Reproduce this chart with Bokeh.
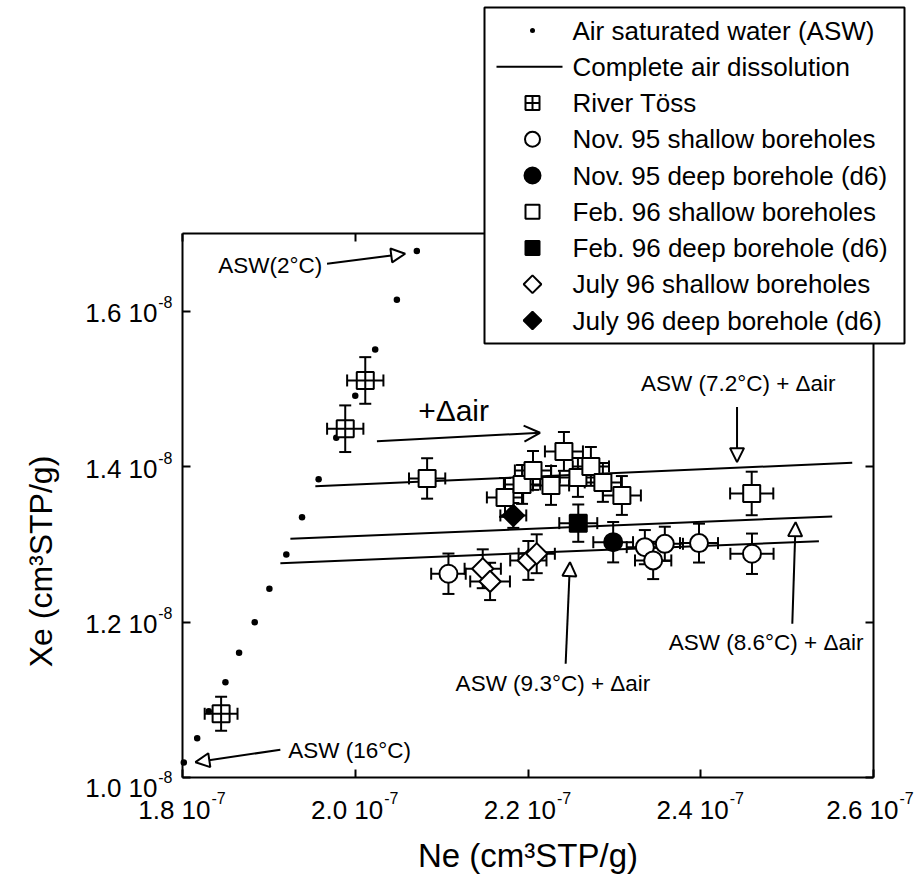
import math

from bokeh.core.properties import value
from bokeh.embed import file_html
from bokeh.models import (Arrow, ColumnDataSource, FixedTicker, Label, LinearAxis,
                          NormalHead, OpenHead, Range1d, TeeHead, Whisker)
from bokeh.plotting import figure
from bokeh.resources import INLINE

FONT = "Liberation Sans"

# Axis ticks: Ne in units of 1e-7, Xe in units of 1e-8 cm3STP/g
ne_ticks = [1.8, 2.0, 2.2, 2.4, 2.6]
ne_tick_text = ["1.8 10", "2.0 10", "2.2 10", "2.4 10", "2.6 10"]
ne_tick_exp = "-7"
xe_ticks = [1.0, 1.2, 1.4, 1.6]
xe_tick_text = ["1.0 10", "1.2 10", "1.4 10", "1.6 10"]
xe_tick_exp = "-8"
ne_lim = (1.8, 2.6)
xe_lim = (1.0, 1.7)

# Air saturated water, 16 °C down to 2 °C in 1 °C steps
asw_ne = [1.8015, 1.8170, 1.8304, 1.8497, 1.8655, 1.8836, 1.9006, 1.9202,
          1.9384, 1.9576, 1.9780, 2.0000, 2.0231, 2.0482, 2.0713]
asw_xe = [1.0193, 1.0506, 1.0853, 1.1227, 1.1605, 1.1999, 1.2429, 1.2870,
          1.3350, 1.3839, 1.4372, 1.4913, 1.5508, 1.6148, 1.6774]

# Complete air dissolution lines (ASW 7.2, 8.6 and 9.3 °C + excess air)
dis_ne0 = [1.9538, 1.9249, 1.9133]
dis_xe0 = [1.3749, 1.3072, 1.2758]
dis_ne1 = [2.5754, 2.5522, 2.5368]
dis_xe1 = [1.4050, 1.3359, 1.3041]

# River Töss
toss_ne = [1.8447, 1.9884, 2.0116]
toss_xe = [1.0820, 1.4488, 1.5109]
toss_ne_err = [0.019, 0.021, 0.021]
toss_xe_err = [0.022, 0.030, 0.030]

# Nov. 95
nov_sh_ne = [2.1079, 2.3353, 2.3449, 2.3584, 2.3980, 2.4593]
nov_sh_xe = [1.2622, 1.2964, 1.2793, 1.3007, 1.3016, 1.2879]
nov_sh_ne_err = [0.020, 0.021, 0.021, 0.021, 0.022, 0.025]
nov_sh_xe_err = [0.026, 0.022, 0.024, 0.022, 0.025, 0.026]
nov_dp_ne = [2.2986]
nov_dp_xe = [1.3028]
nov_dp_ne_err = [0.023]
nov_dp_xe_err = [0.026]

# Feb. 96
feb_sh_ne = [2.0832, 2.1734, 2.1931, 2.2058, 2.2266, 2.2416, 2.2578, 2.2728,
             2.2867, 2.3087, 2.4590]
feb_sh_xe = [1.3848, 1.3604, 1.3771, 1.3951, 1.3758, 1.4196, 1.3861, 1.4003,
             1.3797, 1.3629, 1.3655]
feb_sh_ne_err = [0.021, 0.021, 0.021, 0.021, 0.021, 0.022, 0.021, 0.021,
                 0.021, 0.022, 0.025]
feb_sh_xe_err = [0.026, 0.025, 0.025, 0.025, 0.025, 0.025, 0.025, 0.025,
                 0.025, 0.025, 0.028]
feb_dp_ne = [2.2582]
feb_dp_xe = [1.3273]
feb_dp_ne_err = [0.022]
feb_dp_xe_err = [0.024]

# July 96
jul_sh_ne = [2.1476, 2.1561, 2.2004, 2.2101]
jul_sh_xe = [1.2686, 1.2523, 1.2793, 1.2879]
jul_sh_ne_err = [0.021, 0.023, 0.021, 0.021]
jul_sh_xe_err = [0.025, 0.024, 0.025, 0.025]
jul_dp_ne = [2.1830]
jul_dp_xe = [1.3372]
jul_dp_ne_err = [0.015]
jul_dp_xe_err = [0.016]

legend_labels = ["Air saturated water (ASW)", "Complete air dissolution", "River Töss",
                 "Nov. 95 shallow boreholes", "Nov. 95 deep borehole (d6)",
                 "Feb. 96 shallow boreholes", "Feb. 96 deep borehole (d6)",
                 "July 96 shallow boreholes", "July 96 deep borehole (d6)"]

# Page layout (pixels) of the axes box inside the 915 x 887 canvas
W, H = 915, 887
BOX_L, BOX_R, BOX_T, BOX_B = 182, 873, 233, 777


def ne_at(px):
    return ne_lim[0] + (px - BOX_L) / (BOX_R - BOX_L) * (ne_lim[1] - ne_lim[0])


def xe_at(py):
    return xe_lim[0] + (BOX_B - py) / (BOX_B - BOX_T) * (xe_lim[1] - xe_lim[0])


def ne_px(v):
    return BOX_L + (v - ne_lim[0]) / (ne_lim[1] - ne_lim[0]) * (BOX_R - BOX_L)


p = figure(width=W, height=H, output_backend="svg", toolbar_location=None,
           x_range=Range1d(ne_at(0), ne_at(W)), y_range=Range1d(xe_at(H), xe_at(0)),
           min_border=0, x_axis_type=None, y_axis_type=None)
p.grid.visible = False
p.outline_line_color = None
p.background_fill_color = "white"


def box_axis(ticks, side, loc, bounds):
    ax = LinearAxis(ticker=FixedTicker(ticks=ticks), fixed_location=loc, bounds=bounds,
                    major_label_overrides={t: "" for t in ticks})
    ax.major_label_text_font_size = "0px"
    ax.axis_line_width = 2
    ax.axis_line_color = "black"
    ax.major_tick_line_width = 2
    ax.major_tick_line_color = "black"
    ax.major_tick_in = 8
    ax.major_tick_out = 0
    ax.minor_tick_line_color = None
    p.add_layout(ax, side)


box_axis(ne_ticks, "below", xe_lim[0], ne_lim)
box_axis(ne_ticks, "above", xe_lim[1], ne_lim)
box_axis(xe_ticks, "left", ne_lim[0], xe_lim)
box_axis(xe_ticks, "right", ne_lim[1], xe_lim)

# Tick labels with superscript exponents
SUP_W = 15
for t, s in zip(ne_ticks, ne_tick_text):
    # main text ends a little right of the tick; kept inside the page at the right edge
    end = min(28, W - 2 - SUP_W - ne_px(t))
    p.add_layout(Label(x=t, y=xe_lim[0], text=s, text_align="right",
                       text_baseline="middle", x_offset=end, y_offset=-32,
                       text_font=FONT, text_font_size="26px", text_color="black"))
    p.add_layout(Label(x=t, y=xe_lim[0], text=ne_tick_exp, text_align="left",
                       text_baseline="middle", x_offset=end + 1, y_offset=-20,
                       text_font=FONT, text_font_size="16px", text_color="black"))
for t, s in zip(xe_ticks, xe_tick_text):
    # the bottom label sits a little lower, clear of the corner
    dy = -10 if t == xe_lim[0] else -2
    p.add_layout(Label(x=ne_lim[0], y=t, text=s, text_align="right",
                       text_baseline="middle", x_offset=-25, y_offset=dy,
                       text_font=FONT, text_font_size="26px", text_color="black"))
    p.add_layout(Label(x=ne_lim[0], y=t, text=xe_tick_exp, text_align="right",
                       text_baseline="middle", x_offset=-10, y_offset=dy + 11,
                       text_font=FONT, text_font_size="16px", text_color="black"))

# Axis titles
p.add_layout(Label(x=(ne_lim[0] + ne_lim[1]) / 2, y=xe_lim[0], y_offset=-78,
                   text="Ne (cm³STP/g)", text_align="center", text_baseline="middle",
                   text_font=FONT, text_font_size="33px", text_color="black"))
p.add_layout(Label(x=ne_lim[0], y=xe_at(561), x_offset=-142,
                   text="Xe (cm³STP/g)", text_align="center", text_baseline="middle",
                   angle=math.pi / 2, text_font=FONT, text_font_size="32px",
                   text_color="black"))

# Complete air dissolution lines
p.segment(x0=dis_ne0, y0=dis_xe0, x1=dis_ne1, y1=dis_xe1,
          line_color="black", line_width=2)

# ASW points
p.scatter(asw_ne, asw_xe, marker="circle", size=6.5, line_color=None, fill_color="black")


def series(ne, xe, ne_err, xe_err, marker, fill, size, angle=0.0):
    src = ColumnDataSource(dict(
        ne=ne, xe=xe,
        ne_lo=[a - e for a, e in zip(ne, ne_err)],
        ne_hi=[a + e for a, e in zip(ne, ne_err)],
        xe_lo=[a - e for a, e in zip(xe, xe_err)],
        xe_hi=[a + e for a, e in zip(xe, xe_err)],
    ))
    for base, lo, hi, dim in (("xe", "ne_lo", "ne_hi", "width"),
                              ("ne", "xe_lo", "xe_hi", "height")):
        p.add_layout(Whisker(source=src, base=base, lower=lo, upper=hi,
                             dimension=dim, line_color="black", line_width=2,
                             upper_head=TeeHead(size=12, line_width=2),
                             lower_head=TeeHead(size=12, line_width=2)))
    p.scatter("ne", "xe", source=src, marker=marker, size=size,
              angle=angle, fill_color=fill, line_color="black", line_width=2)


series(toss_ne, toss_xe, toss_ne_err, toss_xe_err, "square_cross", "white", 17)
series(feb_sh_ne, feb_sh_xe, feb_sh_ne_err, feb_sh_xe_err, "square", "white", 17)
series(feb_dp_ne, feb_dp_xe, feb_dp_ne_err, feb_dp_xe_err, "square", "black", 17)
series(nov_sh_ne, nov_sh_xe, nov_sh_ne_err, nov_sh_xe_err, "circle", "white", 18)
series(nov_dp_ne, nov_dp_xe, nov_dp_ne_err, nov_dp_xe_err, "circle", "black", 18)
series(jul_sh_ne, jul_sh_xe, jul_sh_ne_err, jul_sh_xe_err, "square", "white", 15, math.pi / 4)
series(jul_dp_ne, jul_dp_xe, jul_dp_ne_err, jul_dp_xe_err, "square", "black", 15, math.pi / 4)

# Annotations
ann = [
    ("ASW(2°C)", 1.9618, 1.6590, "right", "22.5px"),
    ("ASW (16°C)", 1.9225, 1.0347, "left", "22.5px"),
    ("+Δair", 2.0728, 1.4723, "left", "30px"),
    ("ASW (7.2°C) + Δair", 2.4434, 1.5071, "center", "22.5px"),
    ("ASW (8.6°C) + Δair", 2.4757, 1.1737, "center", "22.5px"),
    ("ASW (9.3°C) + Δair", 2.2289, 1.1210, "center", "22.5px"),
]
for text, x, y, align, size in ann:
    p.add_layout(Label(x=x, y=y, text=text, text_align=align, text_baseline="middle",
                       text_font=FONT, text_font_size=size, text_color="black"))

arrows = [
    (1.9673, 1.6611, 2.0578, 1.6740, "closed"),
    (1.9133, 1.0357, 1.8150, 1.0197, "closed"),
    (2.0251, 1.4328, 2.2139, 1.4436, "open"),
    (2.4420, 1.4766, 2.4420, 1.4058, "closed"),
    (2.5060, 1.1978, 2.5098, 1.3286, "closed"),
    (2.2436, 1.1463, 2.2486, 1.2771, "closed"),
]
for x0, y0, x1, y1, kind in arrows:
    head = (NormalHead(size=14, fill_color="white", line_width=2) if kind == "closed"
            else OpenHead(size=16, line_width=2))
    p.add_layout(Arrow(x_start=x0, y_start=y0, x_end=x1, y_end=y1,
                       line_width=2, end=head))

# Legend box, drawn on top of the axes
LG_L, LG_R, LG_T, LG_B = 484, 904, 7, 343
row_y = [xe_at(30 + i * 36.25) for i in range(len(legend_labels))]
sym_x = ne_at(532)
p.quad(left=[ne_at(LG_L)], right=[ne_at(LG_R)], top=[xe_at(LG_T)], bottom=[xe_at(LG_B)],
       fill_color="white", line_color="black", line_width=2, level="overlay")
p.scatter([sym_x], [row_y[0]], marker="circle", size=5, fill_color="black",
          line_color=None, level="overlay")
p.segment(x0=[ne_at(496)], y0=[row_y[1]], x1=[ne_at(562)], y1=[row_y[1]],
          line_color="black", line_width=2, level="overlay")
legend_marks = [
    (2, "square_cross", "white", 14, 0.0),
    (3, "circle", "white", 15, 0.0),
    (4, "circle", "black", 16, 0.0),
    (5, "square", "white", 14, 0.0),
    (6, "square", "black", 14, 0.0),
    (7, "square", "white", 12.5, math.pi / 4),
    (8, "square", "black", 12.5, math.pi / 4),
]
for row, marker, fill, size, angle in legend_marks:
    p.scatter([sym_x], [row_y[row]], marker=marker, size=size, angle=angle,
              fill_color=fill, line_color="black", line_width=2, level="overlay")
p.text(x=[ne_at(572)] * len(legend_labels), y=row_y, text=legend_labels,
       text_font=value(FONT), text_font_size="26px", text_color="black",
       text_baseline="middle", text_align="left", level="overlay")

open("out.html", "w").write(file_html(p, INLINE))
